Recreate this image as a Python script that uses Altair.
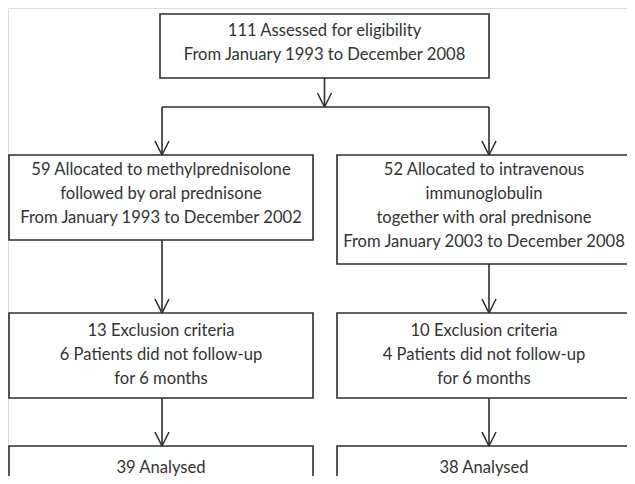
import altair as alt
import pandas as pd

# ---- content ----
box_ids = ["top", "l2", "r2", "l3", "r3", "l4", "r4"]
box_texts = [
    ["111 Assessed for eligibility", "From January 1993 to December 2008"],
    ["59 Allocated to methylprednisolone", "followed by oral prednisone", "From January 1993 to December 2002"],
    ["52 Allocated to intravenous", "immunoglobulin", "together with oral prednisone", "From January 2003 to December 2008"],
    ["13 Exclusion criteria", "6 Patients did not follow-up", "for 6 months"],
    ["10 Exclusion criteria", "4 Patients did not follow-up", "for 6 months"],
    ["39 Analysed"],
    ["38 Analysed"],
]

# ---- layout (page pixel space) ----
box_x1 = [160, 9, 337, 9, 337, 9, 337]
box_x2 = [489, 313, 641, 313, 641, 313, 641]
box_y1 = [14, 155, 155, 313, 313, 446, 446]
box_y2 = [78, 240, 264, 398, 398, 520, 520]
text_cx = [324.5, 161, 484, 161, 484, 161, 484]
text_top = [31, 170, 170, 331, 331, 468, 468]
line_gap = 24

# connectors: (x1, y1, x2, y2, arrow)
conn = [
    (324.5, 78, 324.5, 107, True),
    (162, 107, 489, 107, False),
    (162, 107, 162, 155, True),
    (489, 107, 489, 155, True),
    (162, 240, 162, 313, True),
    (489, 264, 489, 313, True),
    (162, 398, 162, 446, True),
    (489, 398, 489, 446, True),
]

boxes = pd.DataFrame({"id": box_ids, "x": box_x1, "x2": box_x2, "y": box_y1, "y2": box_y2})

trows = []
for i, lines in enumerate(box_texts):
    for j, t in enumerate(lines):
        trows.append({"x": text_cx[i], "y": text_top[i] + j * line_gap, "t": t})
texts = pd.DataFrame(trows)

lrows = []
ah_w, ah_h = 7, 14
for (x1, y1, x2, y2, arrow) in conn:
    lrows.append({"x": x1, "y": y1, "x2": x2, "y2": y2})
    if arrow:
        lrows.append({"x": x2 - ah_w, "y": y2 - ah_h, "x2": x2, "y2": y2})
        lrows.append({"x": x2 + ah_w, "y": y2 - ah_h, "x2": x2, "y2": y2})
lines_df = pd.DataFrame(lrows)

W, H = 619, 468
xs = alt.Scale(domain=[8, 8 + W], nice=False, zero=False)
ys = alt.Scale(domain=[8 + H, 8], nice=False, zero=False)
ink = "#2e2e2e"

rect = alt.Chart(boxes).mark_rect(fillOpacity=0, stroke=ink, strokeWidth=1.6).encode(
    x=alt.X("x:Q", scale=xs, axis=None),
    x2="x2:Q",
    y=alt.Y("y:Q", scale=ys, axis=None),
    y2="y2:Q",
)

rules = alt.Chart(lines_df).mark_rule(color=ink, strokeWidth=1.6).encode(
    x=alt.X("x:Q", scale=xs, axis=None),
    x2="x2:Q",
    y=alt.Y("y:Q", scale=ys, axis=None),
    y2="y2:Q",
)

txt = alt.Chart(texts).mark_text(
    font="Lato", fontSize=16.6, color="#333333", align="center", baseline="middle"
).encode(
    x=alt.X("x:Q", scale=xs, axis=None),
    y=alt.Y("y:Q", scale=ys, axis=None),
    text="t:N",
)

chart = (
    alt.layer(rect, rules, txt)
    .properties(width=W, height=H, padding=0, autosize=alt.AutoSizeParams(type="none"))
    .configure_view(stroke=None)
    .configure(background="white")
)

chart.save("out.html", embed_options={"renderer": "svg", "actions": False})
